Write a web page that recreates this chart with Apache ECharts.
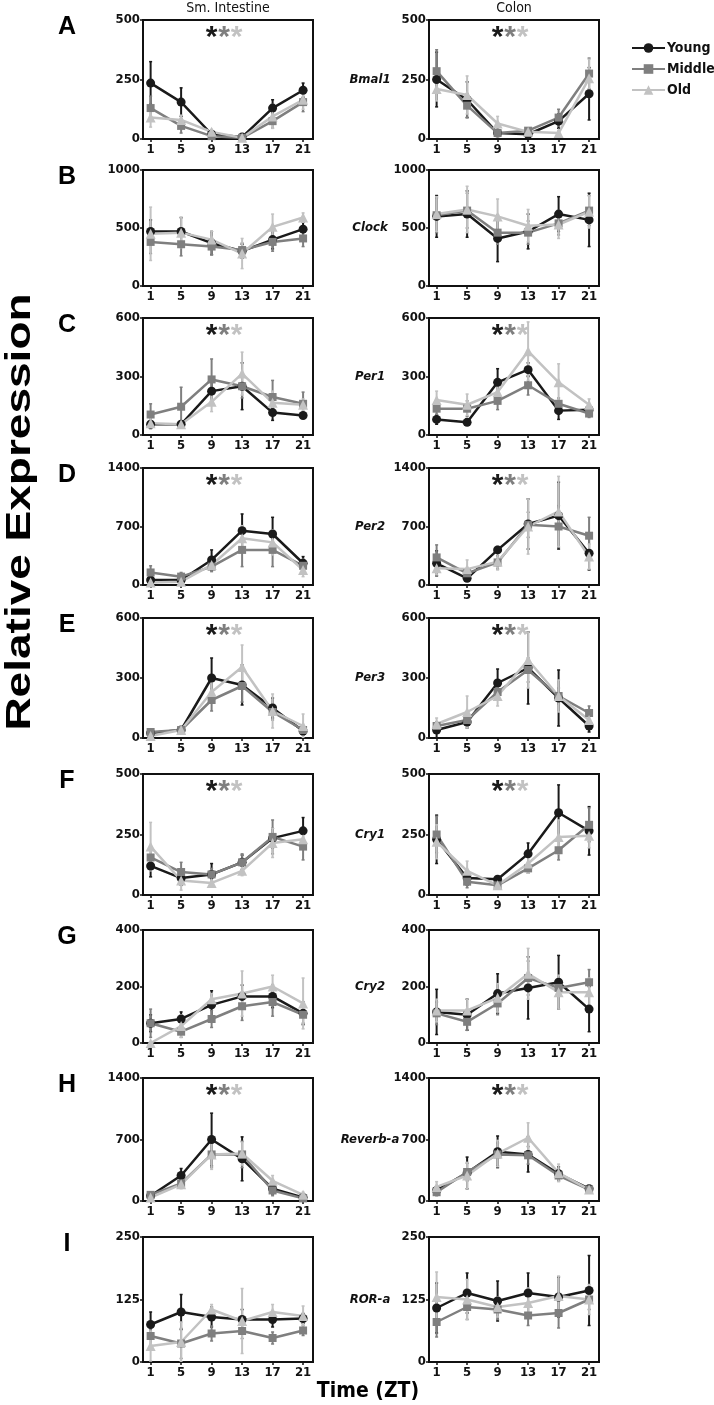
<!DOCTYPE html>
<html><head><meta charset="utf-8">
<script src="https://cdn.jsdelivr.net/npm/echarts@6/dist/echarts.min.js"></script>
<style>html,body{margin:0;padding:0;background:#fff}#c{width:714px;height:1405px}</style>
</head><body><div id="c"></div>
<script>
// ---------------- data ----------------
const zt = [1, 5, 9, 13, 17, 21];
const genes = ['Bmal1', 'Clock', 'Per1', 'Per2', 'Per3', 'Cry1', 'Cry2', 'Reverb-a', 'ROR-a'];
const rowLetters = ['A', 'B', 'C', 'D', 'E', 'F', 'G', 'H', 'I'];
const yMax = [500, 1000, 600, 1400, 600, 500, 400, 1400, 250];
const hasStars = [true, false, true, true, true, true, false, true, false];
const groups = ['Young', 'Middle', 'Old'];
const tissues = ['Sm. Intestine', 'Colon'];

// Small intestine means (rows = genes)
const siYoung = [
  [235,155,20,8,130,205],[470,470,370,300,400,490],[55,55,225,250,115,100],
  [60,60,300,650,610,260],[25,40,300,265,150,35],[120,70,85,135,235,265],
  [70,85,135,165,165,105],[60,290,700,480,140,40],[75,100,90,85,85,87]];
const siMiddle = [
  [130,55,12,5,75,155],[380,360,340,310,380,410],[105,145,285,250,195,160],
  [150,100,220,420,420,230],[30,40,190,260,130,40],[155,95,85,135,240,200],
  [70,40,85,130,145,100],[70,200,530,530,120,30],[52,37,57,62,48,63]];
const siOld = [
  [90,80,30,5,95,165],[450,460,400,280,510,590],[60,55,170,315,165,155],
  [30,40,240,560,510,180],[10,40,230,355,135,60],[200,60,50,100,215,230],
  [0,60,155,175,200,140],[40,190,530,540,230,70],[32,40,105,82,100,92]];
// Small intestine error (SEM)
const siYoungErr = [
  [90,60,5,5,35,30],[100,120,100,60,80,60],[10,10,50,120,40,10],
  [30,30,120,200,200,80],[10,10,100,100,50,20],[45,30,45,30,40,55],
  [30,25,50,40,40,40],[30,80,300,250,60,20],[25,35,20,20,15,10]];
const siMiddleErr = [
  [50,30,5,5,30,40],[100,100,70,60,80,70],[55,100,105,60,85,60],
  [80,50,60,200,200,80],[10,10,55,80,40,20],[40,40,25,35,70,55],
  [50,20,30,50,50,30],[30,50,150,150,60,20],[20,30,15,15,12,10]];
const siOldErr = [
  [40,20,10,5,50,40],[230,130,70,130,110,40],[30,10,50,110,60,30],
  [30,20,50,150,150,80],[10,10,50,110,85,60],[100,40,10,20,60,30],
  [0,40,20,80,40,90],[20,50,170,130,60,30],[30,40,10,65,15,20]];

// Colon means
const coYoung = [
  [250,165,25,20,75,190],[600,620,410,470,620,570],[80,65,270,335,125,130],
  [260,80,420,730,830,380],[40,80,275,350,200,60],[230,70,65,170,340,265],
  [110,100,175,195,215,120],[120,320,560,530,310,140],[108,138,122,138,130,143]];
const coMiddle = [
  [285,140,25,35,90,275],[610,650,460,460,540,650],[135,135,175,255,160,110],
  [330,140,270,720,700,590],[60,90,230,340,210,125],[250,55,40,110,185,290],
  [105,75,140,230,195,215],[100,330,530,520,290,130],[80,110,105,93,98,125]];
const coOld = [
  [210,185,65,30,25,255],[620,660,600,520,530,640],[180,155,220,430,270,155],
  [200,190,280,700,880,340],[70,130,210,390,210,90],[220,100,40,130,240,245],
  [115,115,160,245,180,180],[160,290,540,720,320,130],[130,125,110,118,132,125]];
// Colon error (SEM)
const coYoungErr = [
  [115,75,10,5,30,110],[180,200,200,150,150,230],[25,10,70,35,45,20],
  [150,30,40,300,400,200],[40,30,70,180,140,30],[100,30,10,45,115,100],
  [80,55,70,110,95,80],[50,180,180,200,80,30],[50,40,40,40,40,70]];
const coMiddleErr = [
  [90,50,10,10,35,65],[150,150,100,100,100,130],[30,40,45,50,30,20],
  [150,50,80,150,250,220],[20,30,40,60,40,35],[75,25,10,20,40,70],
  [40,30,40,60,30,45],[40,100,130,100,60,30],[30,25,20,20,30,20]];
const coOldErr = [
  [50,80,30,10,10,80],[150,200,150,140,120,140],[45,55,55,150,95,30],
  [80,110,100,330,420,150],[30,80,50,140,80,30],[70,40,15,40,70,50],
  [40,40,50,90,60,50],[60,150,150,170,100,30],[50,40,20,30,40,30]];

// ---------------- styling / layout ----------------
const NARROW = '"Liberation Sans Narrow","DejaVu Sans Condensed",sans-serif';
const colors = ['#1a1a1a', '#7f7f7f', '#c2c2c2'];
const symbols = ['circle', 'rect', 'triangle'];
const symbolSizes = [9, 8, 10];
const colLeft = [143, 429];
const panelW = 170;
const rowTop = [20, 170, 318, 468, 618, 774, 930, 1078, 1237];
const rowBot = [139, 286, 435, 585, 738, 895, 1043, 1201, 1362];

const means = [[siYoung, siMiddle, siOld], [coYoung, coMiddle, coOld]];
const errs = [[siYoungErr, siMiddleErr, siOldErr], [coYoungErr, coMiddleErr, coOldErr]];

const grids = [], xAxes = [], yAxes = [], series = [], graphics = [];

function errRender(color) {
  return function (params, api) {
    const x = api.value(0), lo = api.value(1), hi = api.value(2);
    const p1 = api.coord([x, lo]), p2 = api.coord([x, hi]);
    return {
      type: 'group',
      children: [
        { type: 'line', shape: { x1: p1[0], y1: p1[1], x2: p2[0], y2: p2[1] }, style: { stroke: color, lineWidth: 2 } },
        { type: 'line', shape: { x1: p2[0] - 1.5, y1: p2[1], x2: p2[0] + 1.5, y2: p2[1] }, style: { stroke: color, lineWidth: 1.5 } },
        { type: 'line', shape: { x1: p1[0] - 1.5, y1: p1[1], x2: p1[0] + 1.5, y2: p1[1] }, style: { stroke: color, lineWidth: 1.5 } }
      ]
    };
  };
}

for (let r = 0; r < genes.length; r++) {
  for (let c = 0; c < 2; c++) {
    const idx = r * 2 + c;
    grids.push({
      left: colLeft[c], top: rowTop[r], width: panelW, height: rowBot[r] - rowTop[r],
      show: true, borderColor: '#111', borderWidth: 2, backgroundColor: 'transparent'
    });
    xAxes.push({
      gridIndex: idx, type: 'value', min: 0, max: 22.3,
      axisLine: { show: true, onZero: false, lineStyle: { color: '#111', width: 2 } },
      axisTick: { show: true, customValues: zt, length: 3, lineStyle: { color: '#111', width: 1.5 } },
      axisLabel: { customValues: zt, fontSize: 13, fontWeight: 'bold', fontFamily: NARROW, color: '#111', margin: 4 },
      splitLine: { show: false }
    });
    yAxes.push({
      gridIndex: idx, type: 'value', min: 0, max: yMax[r], interval: yMax[r] / 2,
      axisLine: { show: true, lineStyle: { color: '#111', width: 2 } },
      axisTick: { show: true, length: 3, lineStyle: { color: '#111', width: 1.5 } },
      axisLabel: { fontSize: 13, fontWeight: 'bold', fontFamily: NARROW, color: '#111', margin: 3, formatter: v => String(v) },
      splitLine: { show: false }
    });
    for (let g = 0; g < 3; g++) {
      const m = means[c][g][r], e = errs[c][g][r];
      series.push({
        type: 'custom', name: groups[g] + ' SEM', xAxisIndex: idx, yAxisIndex: idx,
        data: zt.map((x, i) => [x, Math.max(0, m[i] - e[i]), m[i] + e[i]]),
        renderItem: errRender(colors[g]), z: 2, clip: true, silent: true
      });
    }
    for (let g = 0; g < 3; g++) {
      const m = means[c][g][r];
      series.push({
        type: 'line', name: groups[g], xAxisIndex: idx, yAxisIndex: idx,
        data: zt.map((x, i) => [x, m[i]]),
        symbol: symbols[g], symbolSize: symbolSizes[g], showSymbol: true,
        lineStyle: { color: colors[g], width: 2.5 }, itemStyle: { color: colors[g] },
        z: 3, silent: true
      });
    }
    if (hasStars[r]) {
      const cx = colLeft[c] + 81;
      for (let g = 0; g < 3; g++) {
        graphics.push({
          type: 'text', x: cx + (g - 1) * 12.5, y: rowTop[r] + 3, z: 10,
          style: { text: '*', fill: colors[g], fontSize: 30, fontWeight: 'bold', fontFamily: 'Liberation Sans, sans-serif', textAlign: 'center', textVerticalAlign: 'top' }
        });
      }
    }
  }
  graphics.push({
    type: 'text', x: 67, y: rowTop[r] - 5,
    style: { text: rowLetters[r], fill: '#000', fontSize: 25, fontWeight: 'bold', fontFamily: 'Liberation Sans, sans-serif', textAlign: 'center', textVerticalAlign: 'top' }
  });
  graphics.push({
    type: 'text', x: 370, y: (rowTop[r] + rowBot[r]) / 2,
    style: { text: genes[r], fill: '#111', fontSize: 13, fontWeight: 'bold', fontStyle: 'italic', fontFamily: NARROW, textAlign: 'center', textVerticalAlign: 'middle' }
  });
}
for (let c = 0; c < 2; c++) {
  graphics.push({
    type: 'text', x: colLeft[c] + panelW / 2, y: 8,
    style: { text: tissues[c], fill: '#111', fontSize: 14, fontFamily: NARROW, textAlign: 'center', textVerticalAlign: 'middle' }
  });
}
graphics.push({
  type: 'text', x: 20, y: 512, rotation: Math.PI / 2, scaleY: 0.78,
  style: { text: 'Relative Expression', fill: '#000', fontSize: 46, fontWeight: 'bold', fontFamily: 'Liberation Sans, sans-serif', textAlign: 'center', textVerticalAlign: 'middle' }
});
graphics.push({
  type: 'text', x: 368, y: 1392,
  style: { text: 'Time (ZT)', fill: '#000', fontSize: 21, fontWeight: 'bold', fontFamily: NARROW, textAlign: 'center', textVerticalAlign: 'middle' }
});

const chart = echarts.init(document.getElementById('c'), null, { renderer: 'canvas' });
chart.setOption({
  animation: false,
  backgroundColor: '#fff',
  legend: {
    data: groups, orient: 'vertical', left: 626, top: 36,
    itemWidth: 33, itemHeight: 12, itemGap: 7,
    textStyle: { fontSize: 14, fontWeight: 'bold', fontFamily: NARROW, color: '#111', padding: [0, 0, 0, -3] }
  },
  grid: grids, xAxis: xAxes, yAxis: yAxes, series: series, graphic: graphics
});
</script>
</body></html>
